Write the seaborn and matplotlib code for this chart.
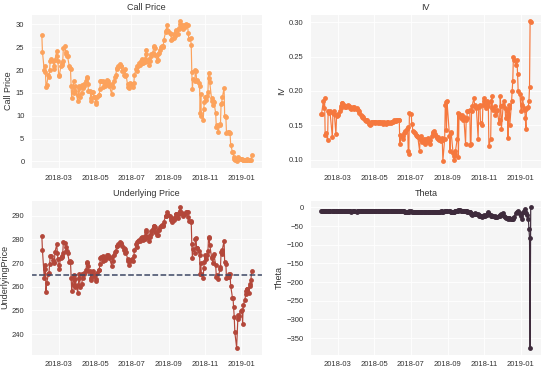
import pandas as pd
import numpy as np
import matplotlib
matplotlib.use("Agg")
import matplotlib.pyplot as plt
import matplotlib.dates as mdates
import matplotlib.ticker as mticker
import seaborn as sns

# trading days, Feb 2018 - option expiry Jan 18 2019
holidays = ["2018-02-19", "2018-03-30", "2018-05-28", "2018-07-04", "2018-09-03",
            "2018-11-22", "2018-12-05", "2018-12-25", "2019-01-01"]
dates = pd.bdate_range("2018-02-01", "2019-01-18", freq="C", holidays=holidays)

strike = 265

call_price = [
    # Feb
    27.7, 24.0, 20.0, 21.0, 19.5, 16.3, 16.7, 19.0, 18.5, 20.0, 22.0, 22.5, 22.0, 21.0, 20.3, 22.3, 24.2, 23.0, 22.0,
    # Mar
    19.0, 18.6, 21.0, 21.2, 21.5, 22.0, 24.8, 25.3, 24.0, 23.5, 23.0, 23.0, 20.8, 20.5, 20.2, 16.5, 13.8, 17.5, 15.0, 15.5, 16.5,
    # Apr
    13.2, 14.5, 16.0, 16.5, 14.2, 15.0, 16.8, 16.0, 17.0, 16.5, 17.5, 18.5, 18.2, 17.0, 15.5, 15.5, 13.3, 13.8, 15.2, 15.2, 14.0,
    # May
    14.2, 12.9, 12.5, 14.0, 14.5, 14.5, 15.8, 17.5, 17.6, 17.5, 16.3, 17.3, 17.0, 16.5, 17.8, 17.2, 17.5, 16.8, 16.5, 14.7, 17.0, 16.2,
    # Jun
    17.5, 18.5, 19.0, 20.3, 20.5, 21.0, 21.2, 21.3, 20.8, 20.8, 19.8, 20.0, 19.0, 20.2, 18.8, 19.0, 16.2, 17.0, 16.0, 17.0, 17.2,
    # Jul
    17.0, 16.2, 17.2, 19.0, 20.3, 21.0, 19.8, 21.0, 21.5, 21.2, 22.0, 22.4, 21.6, 21.5, 21.8, 22.5, 24.5, 23.5, 22.0, 21.2, 22.5,
    # Aug
    22.0, 23.0, 23.5, 23.8, 25.0, 25.2, 24.8, 23.2, 22.0, 23.5, 22.2, 23.8, 24.5, 25.0, 25.3, 25.2, 25.0, 26.5, 28.3, 28.5, 29.9, 28.7, 28.6,
    # Sep
    28.2, 27.8, 26.6, 26.7, 27.0, 27.8, 27.5, 28.5, 28.8, 27.8, 29.0, 29.3, 30.8, 30.2, 29.8, 29.6, 29.0, 29.8, 29.5,
    # Oct
    30.0, 29.8, 29.8, 28.2, 26.9, 27.0, 25.5, 19.5, 15.8, 18.0, 17.5, 20.0, 19.8, 17.8, 17.5, 17.2, 16.5, 10.5, 14.8, 10.0, 9.0, 11.5, 13.0,
    # Nov
    14.2, 13.5, 14.3, 15.3, 19.3, 18.3, 17.3, 13.8, 13.3, 12.3, 13.3, 13.0, 10.5, 7.5, 8.0, 6.5, 8.0, 8.3, 12.6, 12.7, 14.0,
    # Dec
    16.0, 10.0, 9.8, 6.3, 6.4, 6.2, 6.4, 6.2, 3.7, 2.1, 2.0, 1.0, 0.6, 0.3, 0.1, 0.7, 0.9, 0.6, 0.5,
    # Jan
    0.6, 0.2, 0.3, 0.3, 0.3, 0.4, 0.5, 0.3, 0.2, 0.2, 0.2, 0.3, 1.3,
]

iv = [
    0.166, 0.167, 0.185, 0.175, 0.190, 0.136, 0.139, 0.128, 0.170, 0.169, 0.168, 0.170, 0.133, 0.168, 0.167, 0.170, 0.137, 0.163, 0.165,
    0.165, 0.167, 0.170, 0.175, 0.178, 0.183, 0.182, 0.180, 0.178, 0.177, 0.176, 0.178, 0.180, 0.178, 0.176, 0.175, 0.174, 0.175, 0.177, 0.176, 0.174,
    0.175, 0.174, 0.172, 0.170, 0.168, 0.165, 0.163, 0.162, 0.162, 0.160, 0.158, 0.157, 0.156, 0.158, 0.155, 0.152, 0.150, 0.152, 0.155, 0.155, 0.154,
    0.155, 0.153, 0.155, 0.154, 0.155, 0.153, 0.154, 0.155, 0.153, 0.154, 0.152, 0.153, 0.154, 0.153, 0.152, 0.153, 0.154, 0.155, 0.153, 0.154, 0.153, 0.155,
    0.155, 0.157, 0.156, 0.157, 0.156, 0.158, 0.157, 0.158, 0.122, 0.136, 0.134, 0.130, 0.135, 0.138, 0.140, 0.142, 0.145, 0.147, 0.112, 0.108, 0.168,
    0.167, 0.152, 0.142, 0.140, 0.138, 0.136, 0.135, 0.134, 0.133, 0.113, 0.130, 0.135, 0.130, 0.125, 0.128, 0.130, 0.122, 0.130, 0.125, 0.132, 0.128,
    0.125, 0.122, 0.128, 0.135, 0.138, 0.140, 0.142, 0.137, 0.135, 0.132, 0.130, 0.133, 0.128, 0.130, 0.127, 0.131, 0.128, 0.098, 0.130, 0.180, 0.184, 0.143, 0.185,
    0.135, 0.113, 0.140, 0.138, 0.110, 0.105, 0.100, 0.108, 0.112, 0.130, 0.168, 0.104, 0.167, 0.163, 0.160, 0.165, 0.158, 0.160, 0.162,
    0.123, 0.158, 0.160, 0.170, 0.171, 0.172, 0.121, 0.122, 0.170, 0.178, 0.190, 0.180, 0.178, 0.175, 0.176, 0.130, 0.176, 0.178, 0.180, 0.153, 0.150, 0.180, 0.190,
    0.185, 0.180, 0.175, 0.185, 0.178, 0.182, 0.120, 0.130, 0.185, 0.193, 0.175, 0.172, 0.178, 0.165, 0.170, 0.172, 0.153, 0.158, 0.192, 0.178, 0.145,
    0.180, 0.185, 0.175, 0.160, 0.170, 0.132, 0.175, 0.180, 0.150, 0.185, 0.200, 0.215, 0.250, 0.245, 0.238, 0.245, 0.225, 0.200, 0.195,
    0.170, 0.180, 0.190, 0.175, 0.172, 0.160, 0.145, 0.175, 0.177, 0.185, 0.205, 0.302, 0.300,
]

underlying = [
    281.6, 275.5, 263.9, 269.1, 267.7, 257.6, 261.5, 265.3, 266.0, 269.6, 273.0, 273.1, 271.4, 269.9, 270.4, 274.7, 277.9, 274.4, 271.7,
    267.7, 269.1, 272.2, 272.9, 272.8, 274.1, 278.9, 278.5, 276.7, 275.3, 275.0, 274.2, 270.5, 270.9, 270.4, 263.7, 258.1, 265.1, 260.6, 259.8, 263.2,
    257.5, 260.8, 263.6, 265.6, 259.7, 261.0, 265.2, 263.8, 265.9, 265.2, 267.3, 270.2, 270.4, 268.9, 266.6, 266.6, 263.0, 263.6, 266.3, 266.6, 264.5,
    265.0, 263.2, 262.6, 266.0, 266.9, 266.9, 269.5, 272.0, 272.8, 273.0, 271.1, 272.2, 272.0, 271.3, 273.4, 272.6, 273.4, 272.8, 272.1, 268.9, 272.6, 270.9,
    273.6, 274.9, 275.1, 277.4, 277.4, 278.2, 278.6, 279.0, 278.2, 278.7, 277.1, 276.6, 275.5, 276.0, 274.2, 274.7, 271.0, 271.6, 269.4, 270.9, 271.3,
    271.9, 270.9, 273.1, 275.4, 277.9, 278.9, 276.9, 279.4, 279.6, 279.3, 280.5, 281.1, 280.0, 279.7, 280.2, 281.6, 284.0, 283.3, 280.9, 279.4, 281.3,
    280.9, 282.4, 283.6, 284.6, 285.6, 285.5, 285.1, 283.2, 282.1, 283.9, 281.8, 284.1, 285.1, 285.7, 286.3, 286.2, 285.8, 287.5, 289.8, 289.9, 291.5, 290.3, 290.3,
    289.8, 289.0, 288.2, 287.6, 288.1, 289.1, 289.1, 290.8, 290.9, 289.3, 290.9, 291.2, 293.6, 292.0, 291.0, 290.6, 289.9, 290.7, 290.7,
    291.7, 291.6, 291.7, 289.4, 287.8, 287.8, 287.4, 278.3, 272.2, 276.0, 274.4, 280.4, 280.5, 276.4, 276.3, 275.0, 273.6, 265.3, 270.1, 265.3, 263.9, 267.8, 270.6,
    273.5, 271.9, 273.4, 275.1, 281.0, 280.5, 277.8, 272.6, 272.1, 270.2, 273.0, 273.7, 269.1, 264.1, 265.0, 263.3, 267.5, 268.4, 274.6, 274.0, 275.7,
    279.3, 270.3, 269.8, 263.6, 264.1, 264.1, 265.4, 265.4, 260.5, 255.4, 255.1, 251.3, 247.2, 240.7, 234.3, 246.2, 248.1, 247.8, 249.9,
    250.2, 244.2, 252.4, 254.4, 256.8, 258.0, 258.9, 259.0, 257.4, 260.4, 261.0, 263.0, 266.5,
]

theta = [
    -9.5, -9.8, -10.5, -10.2, -10.3, -11.0, -10.8, -10.4, -10.3, -10.1, -9.9, -9.9, -10.0, -10.1, -10.1, -9.8, -9.6, -9.8, -10.0,
    -10.3, -10.2, -10.0, -10.0, -10.0, -9.9, -9.6, -9.7, -9.8, -9.9, -10.0, -10.0, -10.2, -10.2, -10.2, -10.8, -11.2, -10.6, -11.0, -11.0, -10.8,
    -11.2, -11.0, -10.8, -10.6, -11.0, -10.9, -10.6, -10.7, -10.5, -10.5, -10.4, -10.2, -10.2, -10.3, -10.5, -10.5, -10.8, -10.7, -10.5, -10.5, -10.6,
    -10.6, -10.7, -10.8, -10.5, -10.4, -10.4, -10.3, -10.1, -10.0, -10.0, -10.2, -10.1, -10.1, -10.2, -10.0, -10.1, -10.0, -10.1, -10.1, -10.5, -10.2, -10.3,
    -10.1, -10.0, -10.0, -9.8, -9.8, -9.7, -9.7, -9.6, -9.7, -9.6, -9.8, -9.8, -9.9, -9.9, -11.5, -11.5, -12.0, -12.3, -12.4, -13.0, -10.5,
    -11.0, -12.0, -12.5, -12.3, -12.0, -11.8, -12.0, -11.8, -11.7, -11.8, -11.6, -11.5, -11.7, -13.0, -11.8, -11.6, -11.2, -11.5, -12.0, -12.2, -11.9,
    -12.0, -11.8, -11.6, -11.4, -11.2, -11.2, -11.3, -11.6, -11.8, -11.5, -11.9, -11.5, -11.3, -11.2, -11.1, -11.1, -11.2, -11.5, -10.0, -9.8, -8.5, -9.0, -9.5,
    -10.0, -11.0, -11.5, -11.8, -11.5, -12.0, -12.0, -10.0, -9.8, -10.5, -8.0, -11.0, -7.5, -8.0, -8.5, -9.0, -9.5, -9.5, -10.0,
    -10.0, -10.5, -11.0, -12.0, -13.0, -13.0, -12.5, -17.0, -20.0, -19.0, -19.0, -16.0, -16.5, -18.0, -18.5, -19.0, -20.0, -24.0, -22.0, -24.0, -25.0, -23.0, -22.0,
    -21.0, -22.0, -21.5, -20.5, -13.0, -14.0, -17.0, -21.5, -22.0, -23.5, -22.0, -22.0, -24.0, -26.0, -25.5, -26.0, -24.5, -24.5, -20.0, -20.0, -18.5,
    -15.0, -24.0, -26.0, -29.0, -29.0, -30.0, -28.5, -29.0, -31.0, -32.0, -32.0, -30.0, -28.0, -25.0, -16.0, -12.0, -10.0, -13.0, -18.0,
    -22.0, -30.0, -15.0, -10.0, -5.0, -12.0, -15.0, -20.0, -30.0, -57.0, -82.0, -375.0, 0.0,
]

df = pd.DataFrame({"date": dates, "Call Price": call_price, "IV": iv,
                   "UnderlyingPrice": underlying, "Theta": theta})

sns.set_style("darkgrid", {"axes.facecolor": "#f5f5f5", "grid.color": "white"})
plt.rcParams["font.family"] = ["Liberation Sans", "DejaVu Sans"]

panels = [
    ("Call Price", "Call Price", "#fca25c", 5),
    ("IV", "IV", "#f5783e", 0.05),
    ("UnderlyingPrice", "Underlying Price", "#b3473a", 10),
    ("Theta", "Theta", "#3e2b3c", 50),
]

fig, axes = plt.subplots(2, 2, figsize=(5.5, 3.72), dpi=100)
fig.subplots_adjust(left=0.057, right=0.984, top=0.963, bottom=0.047, wspace=0.21, hspace=0.21)

for ax, (col, title, color, step) in zip(axes.flat, panels):
    sns.lineplot(data=df, x="date", y=col, ax=ax, color=color, marker="o",
                 markersize=3.5, markeredgewidth=0, linewidth=0.85)
    if col == "UnderlyingPrice":
        ax.axhline(strike, ls="--", color="#3d4763", lw=1.1)
    ax.set_title(title, fontsize=6.5, pad=3, color="#333333")
    ax.set_xlabel("")
    ax.set_ylabel(col, fontsize=6.5, labelpad=2, color="#333333")
    ax.xaxis.set_major_locator(mdates.MonthLocator(bymonth=[1, 3, 5, 7, 9, 11]))
    ax.xaxis.set_major_formatter(mdates.DateFormatter("%Y-%m"))
    ax.yaxis.set_major_locator(mticker.MultipleLocator(step))
    if col == "IV":
        ax.yaxis.set_major_formatter(mticker.FormatStrFormatter("%.2f"))
    ax.tick_params(labelsize=5.5, pad=1.5, colors="#333333")
    ax.grid(lw=0.6)

fig.savefig("out.png", dpi=100)
